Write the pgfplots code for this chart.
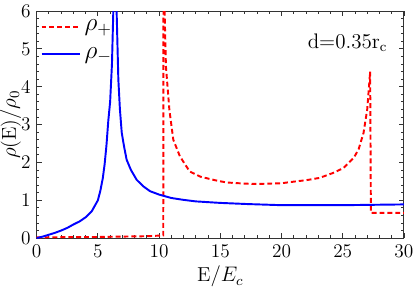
\documentclass[border=0pt]{standalone}
\usepackage{times}
\usepackage{pgfplots}
\pgfplotsset{compat=1.18}
\usetikzlibrary{calc}
\begin{document}
\begin{tikzpicture}
\begin{axis}[
  scale only axis,
  width=209.3pt, height=129.4pt,
  xmin=0, xmax=30, ymin=0, ymax=6,
  xtick={0,5,...,30}, ytick={0,1,...,6},
  minor x tick num=4, minor y tick num=4,
  tick align=inside,
  major tick length=3pt, minor tick length=1.6pt,
  every tick/.style={black!80, line width=0.5pt},
  axis line style={black!80, line width=0.6pt},
  /pgf/number format/assume math mode=true,
  tick label style={font=\fontsize{11}{12}\selectfont},
  xlabel={E$/E_c$},
  ylabel={$\rho$(E)$/\rho_0$},
  label style={font=\fontsize{11.5}{12}\selectfont},
  xlabel style={at={(axis description cs:0.5,-0.17)}, anchor=center},
  ylabel style={at={(axis description cs:-0.071,0.5)}, anchor=center},
  clip=true,
  legend style={at={(axis description cs:0.005,0.985)}, anchor=north west, draw=none, fill=none,
     font=\fontsize{14}{15}\selectfont, row sep=3.8pt, inner sep=1pt},
  legend cell align=left,
  legend image code/.code={\draw[#1] (0pt,0pt) -- (22pt,0pt);},
]
\addplot[red, line width=1.1pt, dash pattern=on 2.8pt off 1.7pt] coordinates {
(0,0.02) (5,0.03) (9,0.05) (10.3,0.07) (10.34,0.07) (10.36,7) (10.45,6.0) (10.56,4.53)
(10.84,3.39) (11.16,2.6) (11.7,2.16) (12.5,1.76) (13.4,1.62) (14.7,1.52) (15.5,1.47)
(17,1.44) (18,1.43) (20,1.45) (21.2,1.5) (22,1.53) (23.1,1.59) (24.2,1.72) (25.05,1.85)
(25.9,2.12) (26.3,2.35) (26.7,2.78) (27.0,3.4) (27.24,4.40) (27.3,0.665) (30,0.665)
};
\addlegendentry{$\rho_{+}$}
\addplot[blue, line width=1.1pt] coordinates {
(0,0) (0.5,0.04) (1,0.09) (1.5,0.14) (2,0.2) (2.5,0.27) (3,0.36) (3.5,0.44) (4,0.55)
(4.5,0.71) (5,1.0) (5.2,1.25) (5.4,1.58) (5.55,1.95) (5.7,2.45) (5.85,3.1) (6.0,3.6) (6.15,4.6)
(6.26,6.0) (6.4,8) (6.53,6.0) (6.67,4.2) (6.8,3.4) (6.95,2.78) (7.15,2.4) (7.35,2.07)
(7.7,1.8) (8.17,1.54) (8.7,1.37) (9.26,1.24) (10,1.15) (11,1.06) (12,1.01) (13,0.97)
(15,0.93) (17.2,0.9) (20,0.87) (25,0.87) (27.5,0.88) (30,0.89)
};
\addlegendentry{$\rho_{-}$}
\node[font=\fontsize{12}{13}\selectfont] at (axis cs:25.4,5.16) {d=0.35r\textsubscript{c}};
\end{axis}
\pgfresetboundingbox
\path ($(current axis.south west)+(-20.9pt,-27.6pt)$) rectangle ($(current axis.north east)+(6.3pt,6.3pt)$);
\end{tikzpicture}
\end{document}
